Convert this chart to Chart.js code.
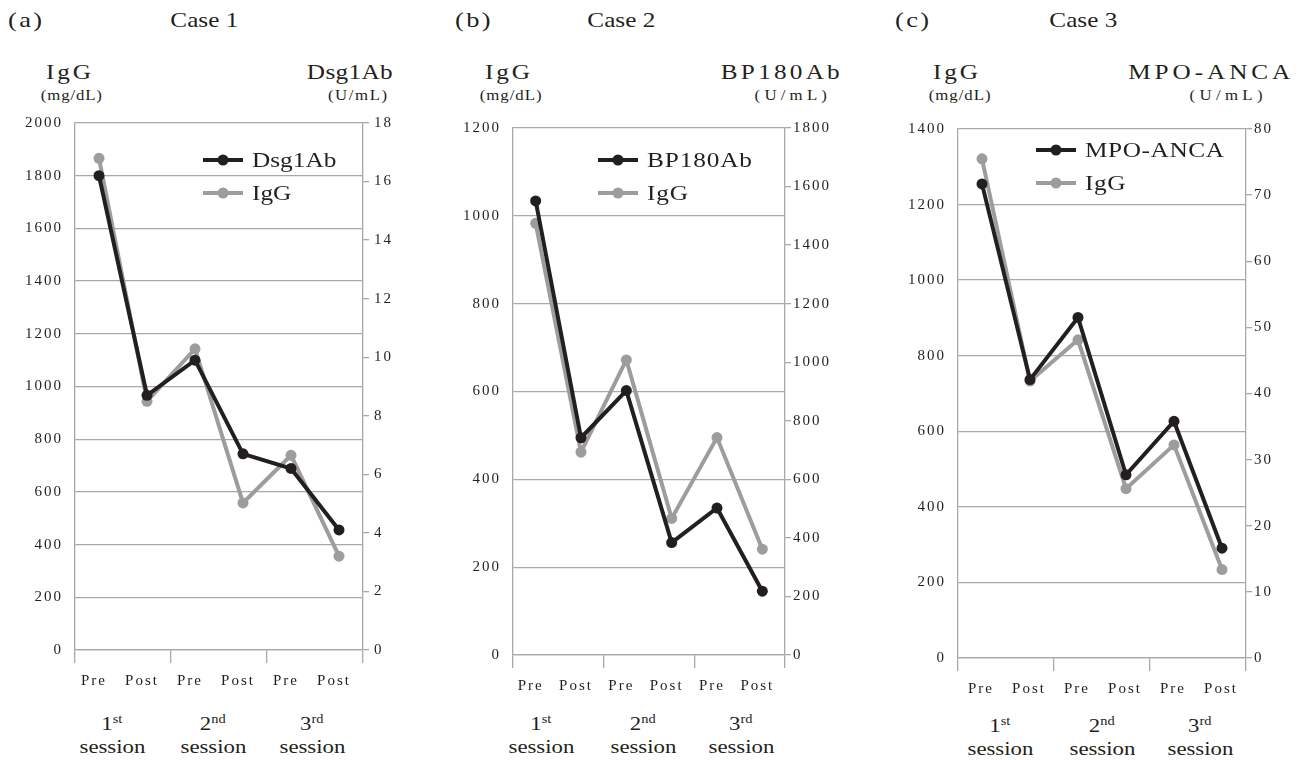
<!DOCTYPE html>
<html>
<head>
<meta charset="utf-8">
<title>IgG and autoantibody levels</title>
<script src="https://cdn.jsdelivr.net/npm/chart.js@4"></script>
<style>
  body { margin: 0; background: #fff; }
  #page {
    position: relative; width: 1311px; height: 760px; overflow: hidden;
    font-family: 'Liberation Serif', 'Times New Roman', serif; color: #231f20;
  }
  canvas { position: absolute; }
  .t { position: absolute; line-height: 1; white-space: nowrap; }
  .c { width: 200px; text-align: center; }
  /* the source figure is stretched sideways */
  .t span, .sess span { display: inline-block; transform: scaleX(1.2); }
  .t.l span { transform-origin: left center; }
  .sess {
    position: absolute; width: 120px; text-align: center;
    font-size: 19px; line-height: 23px;
  }
  .sess sup { font-size: 12px; line-height: 0; vertical-align: baseline; position: relative; top: -7px; }
  .sym { position: absolute; }
</style>
</head>
<body>
<div id="page">
  <!-- panel headings -->
  <div class="t l" style="left:8px;top:9px;font-size:22px;letter-spacing:2px"><span>(a)</span></div>
  <div class="t c" style="left:104px;top:10px;font-size:21px"><span>Case 1</span></div>
  <div class="t c" style="left:-30px;top:62px;font-size:21px;letter-spacing:2.4px"><span>IgG</span></div>
  <div class="t c" style="left:-28px;top:89px;font-size:14px;letter-spacing:0.7px"><span>(mg/dL)</span></div>
  <div class="t c" style="left:250px;top:62px;font-size:21px;letter-spacing:0.3px"><span>Dsg1Ab</span></div>
  <div class="t c" style="left:258px;top:89px;font-size:14px;letter-spacing:1.3px"><span>(U/mL)</span></div>

  <div class="t l" style="left:455px;top:9px;font-size:22px;letter-spacing:2px"><span>(b)</span></div>
  <div class="t c" style="left:521px;top:10px;font-size:21px"><span>Case 2</span></div>
  <div class="t c" style="left:409px;top:62px;font-size:21px;letter-spacing:2.4px"><span>IgG</span></div>
  <div class="t c" style="left:411px;top:89px;font-size:14px;letter-spacing:0.8px"><span>(mg/dL)</span></div>
  <div class="t c" style="left:682px;top:62px;font-size:21px;letter-spacing:2.7px"><span>BP180Ab</span></div>
  <div class="t c" style="left:693px;top:89px;font-size:14px;letter-spacing:3.5px"><span>(U/mL)</span></div>

  <div class="t l" style="left:895px;top:9px;font-size:22px;letter-spacing:2px"><span>(c)</span></div>
  <div class="t c" style="left:983px;top:10px;font-size:21px"><span>Case 3</span></div>
  <div class="t c" style="left:857px;top:62px;font-size:21px;letter-spacing:2.4px"><span>IgG</span></div>
  <div class="t c" style="left:860px;top:89px;font-size:14px;letter-spacing:0.8px"><span>(mg/dL)</span></div>
  <div class="t c" style="left:1111px;top:62px;font-size:21px;letter-spacing:3.3px"><span>MPO-ANCA</span></div>
  <div class="t c" style="left:1128px;top:89px;font-size:14px;letter-spacing:3.6px"><span>(U/mL)</span></div>

  <canvas id="chartA" width="420" height="588" style="left:0;top:102px"></canvas>
  <canvas id="chartB" width="420" height="588" style="left:440px;top:107px"></canvas>
  <canvas id="chartC" width="431" height="590" style="left:880px;top:108px"></canvas>

  <!-- session labels under each pair of Pre/Post -->
  <div class="sess" style="left:52px;top:712px"><span>1<sup>st</sup></span><br><span>session</span></div>
  <div class="sess" style="left:153px;top:712px"><span>2<sup>nd</sup></span><br><span>session</span></div>
  <div class="sess" style="left:252px;top:712px"><span>3<sup>rd</sup></span><br><span>session</span></div>

  <div class="sess" style="left:481px;top:712px"><span>1<sup>st</sup></span><br><span>session</span></div>
  <div class="sess" style="left:583px;top:712px"><span>2<sup>nd</sup></span><br><span>session</span></div>
  <div class="sess" style="left:681px;top:712px"><span>3<sup>rd</sup></span><br><span>session</span></div>

  <div class="sess" style="left:940px;top:714px"><span>1<sup>st</sup></span><br><span>session</span></div>
  <div class="sess" style="left:1042px;top:714px"><span>2<sup>nd</sup></span><br><span>session</span></div>
  <div class="sess" style="left:1140px;top:714px"><span>3<sup>rd</sup></span><br><span>session</span></div>
</div>

<script>
// x categories (Pre/Post of each session)
const categories = ['Pre', 'Post', 'Pre', 'Post', 'Pre', 'Post'];

// Case 1: IgG (mg/dL, left axis) and Dsg1Ab (U/mL, right axis)
const case1IgG = [1866, 944, 1143, 558, 739, 356];
const case1Dsg1Ab = [16.2, 8.7, 9.9, 6.7, 6.2, 4.1];

// Case 2: IgG and BP180Ab
const case2IgG = [983, 462, 672, 311, 495, 241];
const case2BP180Ab = [1551, 742, 903, 384, 502, 218];

// Case 3: IgG and MPO-ANCA
const case3IgG = [1321, 733, 842, 448, 564, 234];
const case3MPOANCA = [71.7, 42.1, 51.5, 27.7, 35.8, 16.6];

// axis ranges: [max, step]
const case1LeftAxis = [2000, 200];
const case1RightAxis = [18, 2];
const case2LeftAxis = [1200, 200];
const case2RightAxis = [1800, 200];
const case3LeftAxis = [1400, 200];
const case3RightAxis = [80, 10];

const BLACK = '#231f20';
const GRAY = '#9d9d9d';
const GRID = '#a8a8a8';

Chart.defaults.font.family = "'Liberation Serif', 'Times New Roman', serif";
Chart.defaults.font.size = 15;
Chart.defaults.color = BLACK;

// the original tick text is wide, spread it a little
const letterSpacing = {
  id: 'letterSpacing',
  beforeDraw(chart) { chart.ctx.letterSpacing = '2px'; }
};

// plain numbers, no thousands separator
const plain = value => String(value);

function buildChart(id, cfg) {
  return new Chart(document.getElementById(id), {
    type: 'line',
    data: {
      labels: categories,
      datasets: [
        { label: cfg.abName, data: cfg.ab, yAxisID: 'yRight', borderColor: BLACK, backgroundColor: BLACK },
        { label: 'IgG', data: cfg.igg, yAxisID: 'yLeft', borderColor: GRAY, backgroundColor: GRAY }
      ]
    },
    options: {
      responsive: false,
      animation: false,
      layout: { padding: 0 },
      elements: {
        line: { borderWidth: 4, tension: 0 },
        point: { radius: 5.5, hoverRadius: 5.5, borderWidth: 0 }
      },
      plugins: { legend: { display: false }, tooltip: { enabled: false } },
      scales: {
        x: {
          offset: true,
          grid: {
            offset: true,
            drawOnChartArea: false,
            tickLength: 13,
            lineWidth: 1.3,
            // only mark the session boundaries
            color: ctx => (ctx.index === undefined || ctx.index % 2 === 0) ? GRID : 'rgba(0,0,0,0)'
          },
          border: { color: GRID, width: 1.3 },
          ticks: { padding: 9, labelOffset: cfg.labelOffset, maxRotation: 0, autoSkip: false },
          afterFit: s => { s.height = 40; }
        },
        yLeft: {
          position: 'left',
          min: 0,
          max: cfg.left[0],
          ticks: { stepSize: cfg.left[1], padding: 12, callback: plain },
          grid: { color: GRID, lineWidth: 1.3, drawTicks: false },
          border: { color: GRID, width: 1.3 },
          afterFit: s => { s.width = cfg.leftWidth; }
        },
        yRight: {
          position: 'right',
          min: 0,
          max: cfg.right[0],
          ticks: { stepSize: cfg.right[1], padding: cfg.rightPad, callback: plain },
          grid: { drawOnChartArea: false, tickLength: 6, color: GRID, lineWidth: 1.3 },
          border: { color: GRID, width: 1.3 },
          afterFit: s => { s.width = cfg.rightWidth; }
        }
      }
    },
    plugins: [letterSpacing]
  });
}

// html legend placed inside the plot, like the original
function addLegend(chart, lineX, rows, spacing) {
  const page = document.getElementById('page');
  chart.data.datasets.forEach((ds, i) => {
    const y = rows[i];
    const svg = document.createElementNS('http://www.w3.org/2000/svg', 'svg');
    svg.setAttribute('class', 'sym');
    svg.setAttribute('width', '40');
    svg.setAttribute('height', '14');
    svg.style.left = lineX + 'px';
    svg.style.top = (y - 7) + 'px';
    svg.innerHTML = '<line x1="0" y1="7" x2="40" y2="7" stroke="' + ds.borderColor + '" stroke-width="4"/>' +
      '<circle cx="20" cy="7" r="5.5" fill="' + ds.borderColor + '"/>';
    page.appendChild(svg);

    const label = document.createElement('div');
    label.className = 't l';
    label.innerHTML = '<span></span>';
    label.firstChild.textContent = ds.label;
    label.firstChild.style.transform = 'scaleX(1.15)';
    label.style.left = (lineX + 49) + 'px';
    label.style.top = (y - 11) + 'px';
    label.style.fontSize = '22px';
    label.style.letterSpacing = spacing + 'px';
    page.appendChild(label);
  });
}

const chartA = buildChart('chartA', {
  abName: 'Dsg1Ab', ab: case1Dsg1Ab, igg: case1IgG,
  left: case1LeftAxis, right: case1RightAxis,
  leftWidth: 75, rightWidth: 57, rightPad: 5, labelOffset: -5
});
const chartB = buildChart('chartB', {
  abName: 'BP180Ab', ab: case2BP180Ab, igg: case2IgG,
  left: case2LeftAxis, right: case2RightAxis,
  leftWidth: 73, rightWidth: 75, rightPad: 2, labelOffset: -5
});
const chartC = buildChart('chartC', {
  abName: 'MPO-ANCA', ab: case3MPOANCA, igg: case3IgG,
  left: case3LeftAxis, right: case3RightAxis,
  leftWidth: 78, rightWidth: 65, rightPad: 2, labelOffset: -1
});

addLegend(chartA, 203, [160, 193], 0);
addLegend(chartB, 598, [160, 193], 0.75);
addLegend(chartC, 1036, [150, 183], 0.5);
</script>
</body>
</html>
